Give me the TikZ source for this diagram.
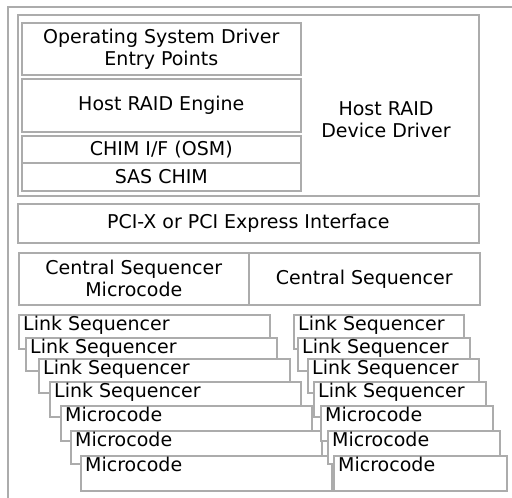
\documentclass[tikz,border=0pt]{standalone}
\usepackage{fontspec}
\setmainfont{DejaVu Sans}
\definecolor{lineGray}{RGB}{172,172,172}
\begin{document}
\begin{tikzpicture}[x=1pt,y=-1pt,
  box/.style={draw=lineGray, fill=white, line width=1.6pt, inner sep=0pt, anchor=north west, align=center, font=\fontsize{19}{22}\selectfont},
  lbl/.style={inner sep=0pt, font=\fontsize{19}{22}\selectfont, align=center},
  frame/.style={draw=lineGray, line width=1.6pt}]
\useasboundingbox (0,0) rectangle (512,498);
% outer frame
\coordinate (fa) at (8,498);
\coordinate (fb) at (8,7);
\coordinate (fc) at (512,7);
\draw[frame] (fa) -- (fb) -- (fc);
% host RAID device driver
\node[box, minimum width=461, minimum height=181] (hrdd) at (17,14) {};
\node[lbl] (hrddlbl) at (386,120) {Host RAID\\Device Driver};
\node[box, minimum width=279, minimum height=52] (osep) at (21,22) {Operating System Driver\\Entry Points};
\node[box, minimum width=279, minimum height=53] (hre) at (21,78) {Host RAID Engine};
\node[box, minimum width=279, minimum height=27] (chim) at (21,135) {CHIM I/F (OSM)};
\node[box, minimum width=279, minimum height=28] (sas) at (21,162) {SAS CHIM};
% PCI
\node[box, minimum width=461, minimum height=39] (pci) at (17,203) {PCI-X or PCI Express Interface};
% central sequencer
\node[box, minimum width=230, minimum height=52] (csm) at (18,252) {Central Sequencer\\Microcode};
\node[box, minimum width=231, minimum height=52] (cs) at (248,252) {Central Sequencer};
% left stack
\foreach \i/\l/\t/\b/\s in {1/18/314/348/Link Sequencer,2/25/337/370/Link Sequencer,3/38/358/392/Link Sequencer,4/49/381/416/Link Sequencer,5/60/405/440/Microcode,6/70/430/463/Microcode,7/80/455/490/Microcode}{
  \node[box, minimum width=251, minimum height={\b-\t}] (l\i) at (\l,\t) {};
  \node[lbl, anchor=base west] (lt\i) at ([xshift=5pt,yshift=-16.5pt]l\i.north west) {\s};
}
% right stack
\foreach \i/\l/\r/\t/\b/\s in {1/293/463/314/348/Link Sequencer,2/297/469/337/370/Link Sequencer,3/307/478/358/392/Link Sequencer,4/313/485/381/416/Link Sequencer,5/320/492/405/440/Microcode,6/327/499/430/463/Microcode,7/333/506/455/490/Microcode}{
  \node[box, minimum width={\r-\l}, minimum height={\b-\t}] (r\i) at (\l,\t) {};
  \node[lbl, anchor=base west] (rt\i) at ([xshift=5pt,yshift=-16.5pt]r\i.north west) {\s};
}
\end{tikzpicture}
\end{document}
